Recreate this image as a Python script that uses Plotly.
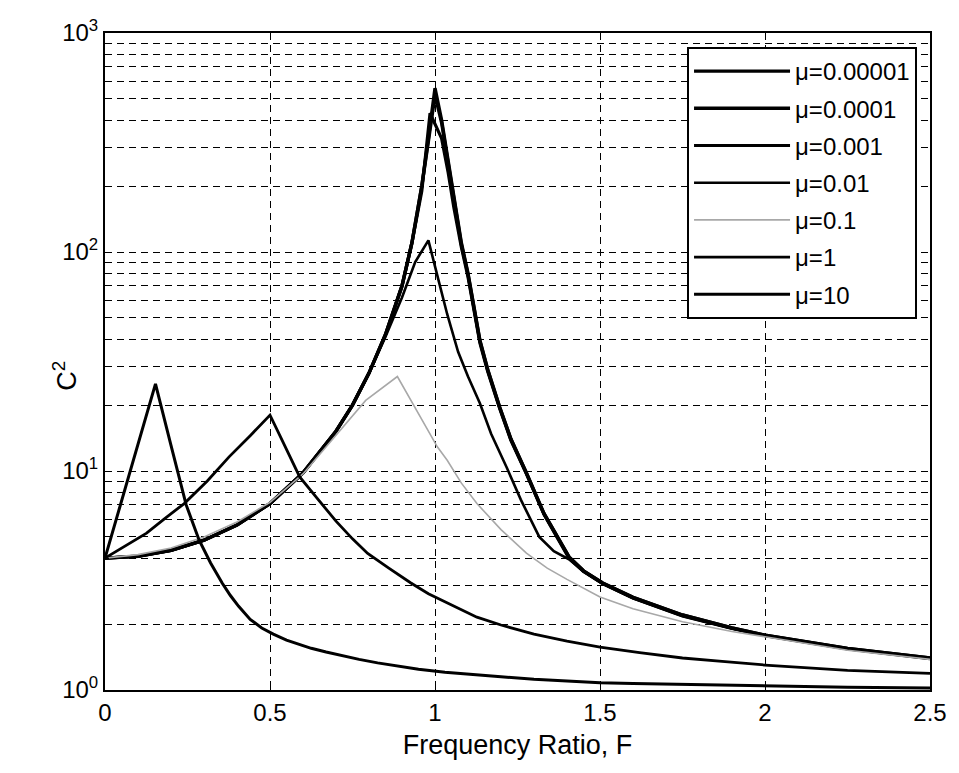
import plotly.graph_objects as go

# ---------------- data ----------------
labels = ["μ=0.00001", "μ=0.0001", "μ=0.001", "μ=0.01", "μ=0.1", "μ=1", "μ=10"]

F_mu1e5 = [0, 0.1, 0.2, 0.3, 0.4, 0.5, 0.6, 0.7, 0.75, 0.8, 0.85, 0.9, 0.93, 0.96, 0.98, 1.0,
           1.02, 1.04, 1.057, 1.08, 1.1, 1.136, 1.16, 1.196, 1.23, 1.277, 1.33, 1.406, 1.45,
           1.508, 1.6, 1.75, 1.9, 2.0, 2.25, 2.5]
C_mu1e5 = [4, 4.08, 4.34, 4.83, 5.67, 7.1, 9.8, 15.2, 20, 28, 42, 70, 110, 200, 330, 560,
           400, 260, 173, 110, 80, 39.6, 29, 19.6, 14, 9.8, 6.4, 4.05, 3.5,
           3.08, 2.65, 2.2, 1.92, 1.78, 1.55, 1.40]

F_mu1e4 = [0, 0.1, 0.2, 0.3, 0.4, 0.5, 0.6, 0.7, 0.75, 0.8, 0.85, 0.9, 0.93, 0.96, 0.98, 1.0,
           1.02, 1.04, 1.057, 1.08, 1.1, 1.136, 1.16, 1.196, 1.23, 1.277, 1.33, 1.406, 1.45,
           1.508, 1.6, 1.75, 1.9, 2.0, 2.25, 2.5]
C_mu1e4 = [4, 4.08, 4.34, 4.83, 5.67, 7.1, 9.8, 15.2, 20, 28, 42, 70, 110, 200, 320, 520,
           390, 255, 170, 108, 79, 39.3, 28.8, 19.5, 14, 9.8, 6.4, 4.05, 3.5,
           3.08, 2.65, 2.2, 1.92, 1.78, 1.55, 1.40]

F_mu1e3 = [0, 0.1, 0.2, 0.3, 0.4, 0.5, 0.6, 0.7, 0.75, 0.8, 0.85, 0.9, 0.93, 0.96, 0.985,
           1.02, 1.04, 1.057, 1.08, 1.1, 1.136, 1.16, 1.196, 1.23, 1.277, 1.33, 1.406, 1.45,
           1.508, 1.6, 1.75, 1.9, 2.0, 2.25, 2.5]
C_mu1e3 = [4, 4.08, 4.34, 4.83, 5.67, 7.1, 9.8, 15.2, 20, 28, 42, 70, 110, 190, 430,
           330, 230, 160, 105, 77, 38.5, 28.4, 19.3, 13.8, 9.7, 6.35, 4.0, 3.48,
           3.06, 2.63, 2.18, 1.91, 1.77, 1.54, 1.39]

F_mu1e2 = [0, 0.1, 0.2, 0.3, 0.4, 0.5, 0.6, 0.7, 0.75, 0.8, 0.85, 0.9, 0.94, 0.98,
           1.01, 1.037, 1.07, 1.1, 1.136, 1.17, 1.217, 1.26, 1.316, 1.36, 1.406, 1.45,
           1.508, 1.6, 1.75, 1.9, 2.0, 2.25, 2.5]
C_mu1e2 = [4, 4.08, 4.34, 4.83, 5.67, 7.1, 9.8, 15.2, 20, 28, 41, 62, 90, 113,
           75, 52, 35, 27, 20.4, 14.8, 10.4, 7.4, 5.0, 4.3, 3.95, 3.48,
           3.05, 2.62, 2.18, 1.91, 1.77, 1.54, 1.39]

F_mu1e1 = [0, 0.1, 0.2, 0.3, 0.4, 0.5, 0.6, 0.7, 0.79, 0.886, 0.92, 0.95, 0.98, 1.007,
           1.037, 1.08, 1.127, 1.2, 1.277, 1.34, 1.4, 1.5, 1.6, 1.75, 1.9, 2.0, 2.25, 2.5]
C_mu1e1 = [4, 4.15, 4.45, 5.0, 5.85, 7.2, 9.7, 14.5, 21, 27, 22, 18.5, 15.2, 12.9,
           11.2, 8.8, 7.1, 5.4, 4.22, 3.6, 3.2, 2.66, 2.35, 2.05, 1.85, 1.75, 1.52, 1.38]

F_mu1 = [0, 0.06, 0.126, 0.18, 0.24, 0.31, 0.376, 0.44, 0.5, 0.53, 0.56, 0.59, 0.64, 0.7,
         0.75, 0.796, 0.86, 0.927, 0.98, 1.037, 1.127, 1.2, 1.3, 1.4, 1.5, 1.62, 1.75,
         1.87, 2.0, 2.25, 2.5]
C_mu1 = [4, 4.55, 5.2, 6.05, 7.1, 9.0, 11.6, 14.5, 18, 14.5, 11.6, 9.4, 7.6, 5.9,
         4.9, 4.2, 3.6, 3.08, 2.75, 2.5, 2.15, 1.98, 1.8, 1.67, 1.57, 1.48, 1.4,
         1.35, 1.30, 1.23, 1.19]

F_mu10 = [0, 0.05, 0.1, 0.153, 0.2, 0.246, 0.285, 0.32, 0.355, 0.38, 0.405, 0.44, 0.475,
          0.51, 0.55, 0.59, 0.625, 0.67, 0.72, 0.77, 0.826, 0.88, 0.95, 1.03, 1.127, 1.2,
          1.3, 1.4, 1.5, 1.6, 1.75, 1.9, 2.0, 2.1, 2.25, 2.5]
C_mu10 = [4, 7.3, 13.3, 25, 13.1, 7.0, 4.84, 3.8, 3.08, 2.70, 2.41, 2.10, 1.92,
          1.80, 1.69, 1.61, 1.55, 1.49, 1.43, 1.38, 1.33, 1.29, 1.245, 1.205, 1.17, 1.15,
          1.12, 1.10, 1.08, 1.07, 1.06, 1.05, 1.04, 1.035, 1.03, 1.02]

xs = [F_mu1e5, F_mu1e4, F_mu1e3, F_mu1e2, F_mu1e1, F_mu1, F_mu10]
ys = [C_mu1e5, C_mu1e4, C_mu1e3, C_mu1e2, C_mu1e1, C_mu1, C_mu10]

x_ticks = [0, 0.5, 1, 1.5, 2, 2.5]
x_ticktext = ["0", "0.5", "1", "1.5", "2", "2.5"]
y_ticks = [1, 10, 100, 1000]
y_ticktext = ["10<sup>0</sup>", "10<sup>1</sup>", "10<sup>2</sup>", "10<sup>3</sup>"]
x_title = "Frequency Ratio, F"
y_title = "C<sup>2</sup>"

# ---------------- styles ----------------
colors = ["black", "black", "black", "black", "#a8a8a8", "black", "black"]
widths = [3.4, 3.4, 3.2, 2.6, 1.6, 2.8, 3.0]

FONT = "Liberation Sans, Arial, sans-serif"

fig = go.Figure()
for i, (lab, x, y) in enumerate(zip(labels, xs, ys)):
    fig.add_trace(go.Scatter(x=x, y=y, mode="lines", name=lab, legendgroup=lab,
                             line=dict(color=colors[i], width=widths[i])))

grid_dash = "7px,5px"
fig.update_layout(
    width=959, height=773,
    margin=dict(l=105, r=22, t=33, b=83),
    paper_bgcolor="white", plot_bgcolor="white",
    font=dict(family=FONT, color="black", size=23),
    showlegend=True,
    legend=dict(x=0.7055, y=0.9787, xanchor="left", yanchor="top",
                bgcolor="white", bordercolor="black", borderwidth=2,
                font=dict(family=FONT, size=24, color="black"),
                tracegroupgap=3, itemwidth=96, traceorder="grouped"),
)
fig.update_xaxes(
    range=[0, 2.5], tickvals=x_ticks, ticktext=x_ticktext,
    showline=True, linecolor="black", linewidth=2, mirror=True,
    showgrid=True, gridcolor="black", gridwidth=1.4, griddash=grid_dash,
    ticks="inside", ticklen=6, tickcolor="black", zeroline=False,
    tickfont=dict(size=24),
    title=dict(text=x_title, font=dict(size=27), standoff=10),
)
fig.update_yaxes(
    type="log", range=[0, 3], tickvals=y_ticks, ticktext=y_ticktext,
    showline=True, linecolor="black", linewidth=2, mirror=True,
    showgrid=True, gridcolor="black", gridwidth=1.4, griddash=grid_dash,
    ticks="inside", ticklen=6, tickcolor="black", zeroline=False,
    tickfont=dict(size=24),
    minor=dict(dtick="D1", showgrid=True, gridcolor="black", gridwidth=1.4,
               griddash=grid_dash, ticks="inside", ticklen=4, tickcolor="black"),
)
fig.add_annotation(text=y_title, xref="paper", yref="paper", x=-0.048, y=0.479,
                   textangle=-90, showarrow=False, font=dict(size=27, family=FONT),
                   xanchor="center", yanchor="middle")

fig.write_html("out.html")
